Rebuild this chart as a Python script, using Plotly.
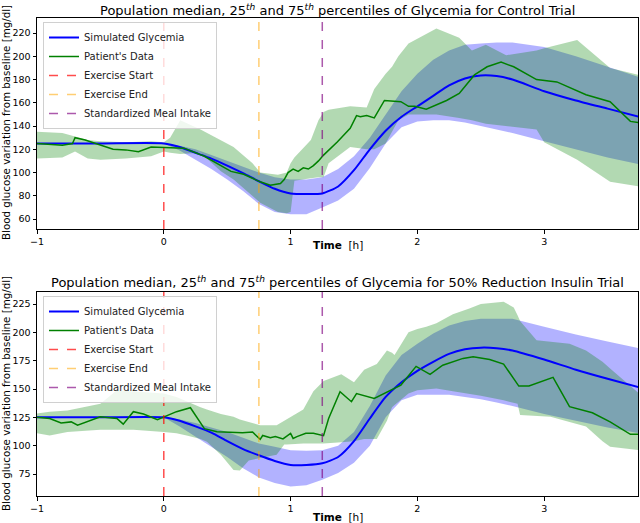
import plotly.graph_objects as go

# ---------------- DATA ----------------
# Simulated glycemia (time grid in hours)
sim_t = [-1, -0.5, 0, 0.125, 0.25, 0.375, 0.5, 0.625, 0.75, 0.875, 1.0, 1.125, 1.25,
         1.375, 1.5, 1.625, 1.75, 1.875, 2.0, 2.125, 2.25, 2.375, 2.5, 2.625, 2.75,
         3.0, 3.25, 3.5, 3.75]

# --- Control trial ---
ctrl_sim_med = [125, 125, 125, 122, 117, 112, 106, 99.5, 92.5, 86, 82, 81.5, 82,
                88, 102, 120, 136, 148, 157, 166, 175, 181, 183.5, 183, 180,
                170, 162, 155, 148]
ctrl_sim_hi = [125, 125, 125, 123, 120, 115, 110, 105, 100, 96, 94, 94, 96,
               103, 114, 130, 150, 170, 185, 197, 205, 210, 211, 212, 212,
               208, 200, 191, 182]
ctrl_sim_lo = [125, 125, 125, 119, 111, 103, 94, 84, 73, 66, 64, 64, 70,
               76, 86, 104, 125, 139, 144, 145, 145, 143, 140, 137, 134,
               127, 120, 113, 107]

ctrl_band_t = [-1, -0.8, -0.7, -0.6, -0.5, -0.3, -0.1, 0, 0.05, 0.13, 0.29, 0.45,
               0.55, 0.7, 0.76, 0.9, 0.97, 1.0, 1.03, 1.16, 1.22, 1.26, 1.3, 1.47,
               1.6, 1.66, 1.75, 1.8, 1.85, 1.93, 2.15, 2.33, 2.43, 2.54, 2.7, 2.94,
               3.0, 3.26, 3.52, 3.75]
ctrl_pat_hi = [135, 134, 131, 128, 127, 126, 127, 126, 130, 145, 137, 128,
               122, 108, 100, 98, 100, 108, 113, 128, 145, 152, 154, 157,
               156, 172, 185, 191, 200, 211, 224, 216, 205, 210, 201, 205,
               207, 214, 190, 184]
ctrl_pat_lo = [112, 113, 118, 112, 111, 112, 114, 118, 117, 116, 117, 101,
               94, 80, 74, 66, 65, 66, 93, 95, 96, 96, 108, 122,
               120, 120, 125, 135, 145, 150, 150, 147, 145, 142, 140, 137,
               126, 111, 92, 88]

ctrl_pat_t = [-1, -0.9, -0.8, -0.72, -0.7, -0.62, -0.5, -0.4, -0.3, -0.2, -0.1, 0,
              0.16, 0.32, 0.42, 0.53, 0.63, 0.76, 0.84, 0.92, 0.95, 0.98, 1.02,
              1.06, 1.1, 1.14, 1.18, 1.22, 1.26, 1.37, 1.47, 1.52, 1.55, 1.6,
              1.66, 1.74, 1.87, 1.93, 1.98, 2.07, 2.23, 2.33, 2.45, 2.55, 2.66,
              2.76, 2.94, 3.1, 3.33, 3.52, 3.68, 3.75]
ctrl_pat_med = [125, 124, 123.5, 125, 130, 128, 124, 120, 119.5, 118, 122, 121.5,
                121, 114, 108, 101, 98.5, 92, 89, 90.5, 94, 100, 103,
                101, 104, 103, 106, 110, 115, 126.5, 138, 149, 148, 149,
                147, 162, 161, 157, 157, 154.5, 162, 168, 184, 191, 195,
                191, 180, 178, 167, 161, 144, 143]

# --- 50% reduction insulin trial ---
red_sim_med = [125, 125, 125, 122, 117, 111.5, 104, 97, 91.5, 86.5, 83, 83, 84.5,
               90, 104, 124, 143, 156, 166, 174, 181, 185, 186.5, 186, 184,
               176, 167, 159, 151.5]
red_sim_hi = [125, 125, 125, 123, 120, 116, 112, 107, 102, 99, 96, 95.5, 96,
              100, 112, 135, 162, 180, 190, 199, 206, 210, 212, 212, 212,
              205, 198, 192, 186]
red_sim_lo = [125, 125, 125, 117, 108, 99, 90, 80, 72, 67, 64, 65, 70,
              76, 85, 100, 125, 140, 145, 145, 145, 143, 141, 138, 135,
              128, 122, 116, 111]

red_band_t = [-1, -0.9, -0.76, -0.63, -0.5, -0.37, -0.24, 0, 0.1, 0.18, 0.29, 0.34,
              0.45, 0.55, 0.6, 0.67, 0.76, 0.89, 0.95, 0.97, 1.1, 1.18, 1.26, 1.4,
              1.5, 1.58, 1.68, 1.76, 1.8, 1.82, 1.93, 2.0, 2.07, 2.15, 2.28, 2.41,
              2.5, 2.68, 2.76, 2.79, 2.81, 2.94, 3.05, 3.2, 3.33, 3.46, 3.52, 3.75]
red_pat_hi = [128.5, 130, 131, 134, 137, 149, 148, 146, 143, 139, 134, 132,
              128, 125.5, 123, 121, 118, 118, 122, 124, 132, 148, 157, 163,
              156, 167, 172, 184, 182, 180, 200, 203, 205, 208, 216, 221,
              225, 227, 222, 215, 210, 193, 192, 190, 184, 174, 168, 146]
red_pat_lo = [111, 109, 112, 113, 114, 114, 114, 112, 111, 109, 106, 103.5,
              92, 78.5, 78, 87, 89, 92, 101, 101, 102, 102, 102, 103,
              104, 106, 106, 122, 134, 136, 146, 149, 150, 150.5, 148, 146,
              144, 140, 138, 137, 127, 126, 125.5, 121, 117, 104, 99, 96]

red_pat_t = [-1, -0.9, -0.81, -0.73, -0.68, -0.63, -0.5, -0.37, -0.32, -0.24, -0.16,
             -0.05, 0, 0.1, 0.21, 0.32, 0.42, 0.55, 0.62, 0.7, 0.76, 0.78, 0.84,
             0.88, 0.94, 1.0, 1.02, 1.05, 1.12, 1.18, 1.22, 1.26, 1.3, 1.39, 1.48,
             1.52, 1.66, 1.76, 1.87, 1.99, 2.1, 2.2, 2.36, 2.44, 2.57, 2.68, 2.8,
             2.88, 3.07, 3.2, 3.38, 3.52, 3.68, 3.75]
red_pat_med = [125, 124, 120, 121, 118, 120, 125.5, 124, 119, 130, 128,
               123, 125.5, 130, 133.5, 115, 112.3, 112, 111.4, 112, 105.6, 109, 107,
               108, 106, 110.9, 106.4, 108, 110.9, 111, 110, 108.8, 124, 147.6, 138.8,
               146, 141.7, 147.6, 153.5, 170, 163, 171, 177, 178.5, 176, 172, 152.6,
               152.6, 160.3, 134.4, 129, 121, 110, 110]

# Event times (h)
exercise_start = 0
exercise_end = 0.75
meal_time = 1.25

x_ticks = [-1, 0, 1, 2, 3]
ctrl_y_ticks = [60, 80, 100, 120, 140, 160, 180, 200, 220]
red_y_ticks = [75, 100, 125, 150, 175, 200, 225]

titles = [
    "Population median, 25<sup><i>th</i></sup> and 75<sup><i>th</i></sup> percentiles of Glycemia for Control Trial",
    "Population median, 25<sup><i>th</i></sup> and 75<sup><i>th</i></sup> percentiles of Glycemia for 50% Reduction Insulin Trial",
]
y_label = "Blood glucose variation from baseline [mg/dl]"
x_label = "<b>Time</b>  [h]"

# ---------------- FIGURE ----------------
FONT = "DejaVu Sans"
W, H = 640, 523
ML, MR, MT, MB = 37, 2, 18, 27
PH = H - MT - MB

def py2paper(py):
    return (H - MB - py) / PH

fig = go.Figure()

panels = [
    dict(sim_med=ctrl_sim_med, sim_hi=ctrl_sim_hi, sim_lo=ctrl_sim_lo,
         band_t=ctrl_band_t, pat_hi=ctrl_pat_hi, pat_lo=ctrl_pat_lo,
         pat_t=ctrl_pat_t, pat_med=ctrl_pat_med, xa="x", ya="y", leg="legend"),
    dict(sim_med=red_sim_med, sim_hi=red_sim_hi, sim_lo=red_sim_lo,
         band_t=red_band_t, pat_hi=red_pat_hi, pat_lo=red_pat_lo,
         pat_t=red_pat_t, pat_med=red_pat_med, xa="x2", ya="y2", leg="legend2"),
]

BLUE_FILL = "rgba(0,0,255,0.3)"
GREEN_FILL = "rgba(0,128,0,0.3)"

for p in panels:
    # simulated band
    fig.add_trace(go.Scatter(x=sim_t, y=p["sim_lo"], mode="lines", line=dict(width=0),
                             showlegend=False, hoverinfo="skip", legend=p["leg"],
                             xaxis=p["xa"], yaxis=p["ya"]))
    fig.add_trace(go.Scatter(x=sim_t, y=p["sim_hi"], mode="lines", line=dict(width=0),
                             fill="tonexty", fillcolor=BLUE_FILL, legend=p["leg"],
                             showlegend=False, hoverinfo="skip", xaxis=p["xa"], yaxis=p["ya"]))
    # patient band
    fig.add_trace(go.Scatter(x=p["band_t"], y=p["pat_lo"], mode="lines", line=dict(width=0),
                             showlegend=False, hoverinfo="skip", legend=p["leg"],
                             xaxis=p["xa"], yaxis=p["ya"]))
    fig.add_trace(go.Scatter(x=p["band_t"], y=p["pat_hi"], mode="lines", line=dict(width=0),
                             fill="tonexty", fillcolor=GREEN_FILL, legend=p["leg"],
                             showlegend=False, hoverinfo="skip", xaxis=p["xa"], yaxis=p["ya"]))
    # medians
    fig.add_trace(go.Scatter(x=sim_t, y=p["sim_med"], mode="lines", name="Simulated Glycemia",
                             line=dict(color="#0000ff", width=2, shape="spline", smoothing=0.6),
                             legend=p["leg"], legendrank=1, xaxis=p["xa"], yaxis=p["ya"]))
    fig.add_trace(go.Scatter(x=p["pat_t"], y=p["pat_med"], mode="lines", name="Patient's Data",
                             line=dict(color="#008000", width=1.5),
                             legend=p["leg"], legendrank=2, xaxis=p["xa"], yaxis=p["ya"]))
    # event lines
    for rank, (xv, col, nm) in enumerate([
        (exercise_start, "rgba(255,0,0,0.7)", "Exercise Start"),
        (exercise_end, "rgba(255,165,0,0.55)", "Exercise End"),
        (meal_time, "rgba(128,0,128,0.65)", "Standardized Meal Intake"),
    ]):
        fig.add_shape(type="line", x0=xv, x1=xv, y0=0, y1=1,
                      xref=p["xa"], yref=p["ya"] + " domain",
                      line=dict(color=col, width=1.5, dash="dash"),
                      showlegend=True, name=nm, legend=p["leg"], legendrank=3 + rank)

axis_common = dict(showgrid=False, zeroline=False, showline=True, linecolor="black",
                   linewidth=1, mirror=True, ticks="outside", ticklen=3.5,
                   tickcolor="black", tickfont=dict(family=FONT, size=9.5, color="black"))

top_dom = [py2paper(229), 1.0]
bot_dom = [0.0, py2paper(292)]

legend_common = dict(x=0.01, xanchor="left", yanchor="top", traceorder="normal",
                     bgcolor="rgba(255,255,255,0.8)", bordercolor="#d0d0d0", borderwidth=1,
                     font=dict(family=FONT, size=10, color="#222"), itemwidth=30,
                     tracegroupgap=0)

fig.update_layout(
    width=W, height=H,
    margin=dict(l=ML, r=MR, t=MT, b=MB),
    paper_bgcolor="white", plot_bgcolor="white",
    font=dict(family=FONT, color="black"),
    xaxis=dict(axis_common, range=[-1, 3.74], tickvals=x_ticks, anchor="y", domain=[0, 1]),
    yaxis=dict(axis_common, range=[51.4, 233], tickvals=ctrl_y_ticks, anchor="x", domain=top_dom),
    xaxis2=dict(axis_common, range=[-1, 3.74], tickvals=x_ticks, anchor="y2", domain=[0, 1]),
    yaxis2=dict(axis_common, range=[55.6, 235.6], tickvals=red_y_ticks, anchor="x2", domain=bot_dom),
    legend=dict(legend_common, y=py2paper(22)),
    legend2=dict(legend_common, y=py2paper(296)),
    showlegend=True,
)

# titles and labels
for title, ty in zip(titles, [10, 282]):
    fig.add_annotation(text=title, xref="paper", yref="paper", x=0.5, y=py2paper(ty),
                       xanchor="center", yanchor="middle", showarrow=False,
                       font=dict(family=FONT, size=13, color="black"))
for ty in [245, 517]:
    fig.add_annotation(text=x_label, xref="paper", yref="paper", x=0.5, y=py2paper(ty),
                       xanchor="center", yanchor="middle", showarrow=False,
                       font=dict(family=FONT, size=10.5, color="black"))
for ty in [123, 394]:
    fig.add_annotation(text=y_label, xref="paper", yref="paper", x=(6 - ML) / (W - ML - MR),
                       y=py2paper(ty), xanchor="center", yanchor="middle", textangle=-90,
                       showarrow=False, font=dict(family=FONT, size=10.3, color="black"))

fig.write_html("out.html", config={"displayModeBar": False},
               post_script="document.body.style.margin='0';document.body.style.overflow='hidden';")
